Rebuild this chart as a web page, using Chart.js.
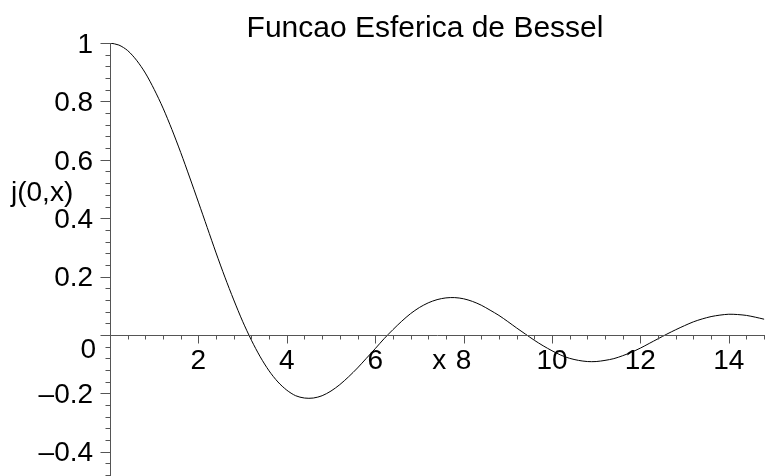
<!DOCTYPE html>
<html>
<head>
<meta charset="utf-8">
<script src="https://cdn.jsdelivr.net/npm/chart.js@4"></script>
<style>
  body { margin: 0; background: #fff; }
  canvas { display: block; }
</style>
</head>
<body>
<canvas id="bessel" width="765" height="476"></canvas>
<script>
// j(0,x) sampled every 0.2
const xs = [0, 0.2, 0.4, 0.6, 0.8, 1, 1.2, 1.4, 1.6, 1.8, 2, 2.2, 2.4, 2.6, 2.8, 3, 3.2, 3.4, 3.6, 3.8,
  4, 4.2, 4.4, 4.6, 4.8, 5, 5.2, 5.4, 5.6, 5.8, 6, 6.2, 6.4, 6.6, 6.8, 7, 7.2, 7.4, 7.6, 7.8,
  8, 8.2, 8.4, 8.6, 8.8, 9, 9.2, 9.4, 9.6, 9.8, 10, 10.2, 10.4, 10.6, 10.8, 11, 11.2, 11.4, 11.6, 11.8,
  12, 12.2, 12.4, 12.6, 12.8, 13, 13.2, 13.4, 13.6, 13.8, 14, 14.2, 14.4, 14.6, 14.8];
const ys = [1, 0.993, 0.974, 0.941, 0.897, 0.841, 0.777, 0.704, 0.625, 0.541,
  0.455, 0.368, 0.281, 0.198, 0.120, 0.047, -0.018, -0.075, -0.123, -0.161,
  -0.189, -0.208, -0.216, -0.216, -0.208, -0.192, -0.170, -0.143, -0.113, -0.080,
  -0.047, -0.013, 0.018, 0.047, 0.073, 0.094, 0.110, 0.121, 0.127, 0.128,
  0.124, 0.115, 0.102, 0.085, 0.067, 0.046, 0.024, 0.003, -0.018, -0.037,
  -0.054, -0.069, -0.080, -0.087, -0.091, -0.091, -0.087, -0.081, -0.071, -0.059,
  -0.045, -0.029, -0.013, 0.003, 0.018, 0.032, 0.045, 0.055, 0.063, 0.068,
  0.071, 0.070, 0.067, 0.061, 0.054];

const xTicks = [2, 4, 6, 8, 10, 12, 14];
const yTicks = [-0.4, -0.2, 0, 0.2, 0.4, 0.6, 0.8, 1];

const titleText = 'Funcao Esferica de Bessel';
const xLabel = 'x';
const yLabel = 'j(0,x)';

const axisColor = '#555';
const font = '28px "Liberation Sans", Arial, sans-serif';

// maple style axes crossing at the origin, with minor ticks
const crossAxes = {
  id: 'crossAxes',
  afterDatasetsDraw(chart) {
    const ctx = chart.ctx;
    const sx = chart.scales.x, sy = chart.scales.y;
    const area = chart.chartArea;
    const x0 = Math.round(sx.getPixelForValue(0)) + 0.5;
    const y0 = Math.round(sy.getPixelForValue(0)) + 0.5;

    ctx.save();
    ctx.strokeStyle = axisColor;
    ctx.lineWidth = 1;
    ctx.beginPath();
    ctx.moveTo(area.left, y0);
    ctx.lineTo(area.right, y0);
    ctx.moveTo(x0, area.top);
    ctx.lineTo(x0, area.bottom);

    // x ticks every 0.4, long ones every 2
    for (let k = 1; k * 0.4 <= sx.max; k++) {
      const px = Math.round(sx.getPixelForValue(k * 0.4)) + 0.5;
      const len = k % 5 === 0 ? 8 : 4;
      ctx.moveTo(px, y0);
      ctx.lineTo(px, y0 + len);
    }
    // y ticks every 0.04, long ones every 0.2
    for (let k = Math.ceil(sy.min / 0.04); k * 0.04 <= sy.max + 1e-9; k++) {
      const py = Math.round(sy.getPixelForValue(k * 0.04)) + 0.5;
      const len = k % 5 === 0 ? 10 : 5;
      ctx.moveTo(x0, py);
      ctx.lineTo(x0 - len, py);
    }
    ctx.stroke();

    ctx.fillStyle = '#000';
    ctx.font = font;
    ctx.textBaseline = 'alphabetic';
    ctx.textAlign = 'center';
    xTicks.forEach(v => {
      ctx.fillText(String(v), sx.getPixelForValue(v), y0 + 33);
    });
    // y labels: line up the ink of the last glyph next to the axis
    ctx.textAlign = 'left';
    ctx.textBaseline = 'middle';
    yTicks.forEach(v => {
      const txt = String(v).replace('-', '\u2013');
      const inkRight = ctx.measureText(txt).actualBoundingBoxRight;
      if (v === 0) {
        ctx.fillText(txt, x0 - 15 - inkRight, y0 + 15);
      } else {
        ctx.fillText(txt, x0 - 18 - inkRight, sy.getPixelForValue(v) + 2);
      }
    });

    // axis names
    ctx.textAlign = 'center';
    ctx.textBaseline = 'alphabetic';
    ctx.fillText(xLabel, sx.getPixelForValue(7.45), y0 + 33);
    ctx.textAlign = 'left';
    ctx.fillText(yLabel, 11, sy.getPixelForValue(0.46));

    ctx.font = '30px "Liberation Sans", Arial, sans-serif';
    ctx.textAlign = 'center';
    ctx.fillText(titleText, 425, 37);
    ctx.restore();
  }
};

new Chart(document.getElementById('bessel'), {
  type: 'line',
  data: {
    datasets: [{
      label: yLabel,
      data: xs.map((x, i) => ({ x: x, y: ys[i] })),
      borderColor: '#000',
      borderWidth: 1,
      pointRadius: 0,
      tension: 0.3,
      fill: false
    }]
  },
  options: {
    responsive: false,
    animation: false,
    devicePixelRatio: 1,
    layout: { padding: { left: 110, top: 43, right: 0, bottom: 0 } },
    plugins: {
      legend: { display: false },
      title: { display: false },
      tooltip: { enabled: false }
    },
    scales: {
      x: { type: 'linear', min: 0, max: 14.82, display: false },
      y: { type: 'linear', min: -0.483, max: 1, display: false }
    }
  },
  plugins: [crossAxes]
});
</script>
</body>
</html>
